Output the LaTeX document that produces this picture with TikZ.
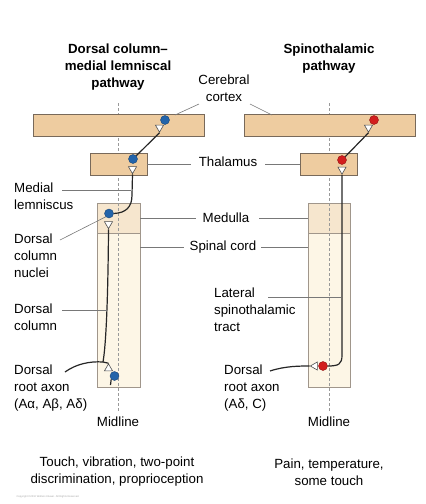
\documentclass[tikz,border=0pt]{standalone}
\usepackage{fontspec}
\setmainfont{Liberation Sans}
\usetikzlibrary{shapes.geometric}
\definecolor{boxdark}{RGB}{238,204,160}
\definecolor{medfill}{RGB}{246,230,206}
\definecolor{cordfill}{RGB}{253,246,230}
\definecolor{edge}{RGB}{120,105,90}
\definecolor{bluedot}{RGB}{35,100,170}
\definecolor{reddot}{RGB}{210,30,30}
\definecolor{leadc}{RGB}{120,120,120}
\tikzset{
  lbl/.style={inner sep=0pt, font=\fontsize{13.3}{17}\selectfont, align=left},
  ttl/.style={inner sep=0pt, font=\fontsize{13.3}{17}\selectfont\bfseries, align=center},
  brain/.style={draw=edge, line width=0.8pt, fill=boxdark},
  medbox/.style={draw=edge!70, line width=0.7pt, fill=medfill},
  cordbox/.style={draw=edge!70, line width=0.7pt, fill=cordfill},
  midl/.style={draw=gray!80, line width=0.8pt, dash pattern=on 3pt off 2pt},
  axon/.style={draw=black!85, line width=1.2pt},
  leader/.style={draw=leadc, line width=0.6pt},
  bdot/.style={circle, inner sep=0pt, minimum size=9pt, fill=bluedot, draw=bluedot!70!black, line width=0.4pt},
  rdot/.style={circle, inner sep=0pt, minimum size=9pt, fill=reddot, draw=reddot!70!black, line width=0.4pt},
  term/.style={isosceles triangle, isosceles triangle apex angle=60, inner sep=0pt, minimum height=7pt, fill=white, draw=black!70, line width=0.6pt}
}
\begin{document}
\begin{tikzpicture}[x=1pt,y=-1pt]
\useasboundingbox (0,0) rectangle (426,504);
% titles
\node[ttl] (t1) at (118,67) {Dorsal column–\\medial lemniscal\\pathway};
\node[ttl] (t2) at (329,58.5) {Spinothalamic\\pathway};
% midlines
\draw[midl] (118,103) -- (118,412);
\draw[midl] (329,103) -- (329,412);
% cortex
\node[brain, minimum width=171pt, minimum height=22pt, inner sep=0pt] (cxl) at (118.5,125.5) {};
\node[brain, minimum width=171pt, minimum height=22pt, inner sep=0pt] (cxr) at (329.5,125.5) {};
% thalamus
\node[brain, minimum width=57pt, minimum height=22pt, inner sep=0pt] (thl) at (118.5,164) {};
\node[brain, minimum width=57pt, minimum height=22pt, inner sep=0pt] (thr) at (328.5,164) {};
% medulla and cord
\node[medbox, minimum width=43pt, minimum height=30pt, inner sep=0pt] (mdl) at (118.5,218) {};
\node[cordbox, minimum width=43pt, minimum height=154pt, inner sep=0pt] (cdl) at (118.5,310) {};
\node[medbox, minimum width=42pt, minimum height=30pt, inner sep=0pt] (mdr) at (329,218) {};
\node[cordbox, minimum width=42pt, minimum height=154pt, inner sep=0pt] (cdr) at (329,310) {};
\draw[midl] (118,203) -- (118,387);
\draw[midl] (329,203) -- (329,387);
% center labels
\node[lbl, align=center] (cc) at (224,88.5) {Cerebral\\cortex};
\draw[leader] (199,104) -- (175,115);
\draw[leader] (250,104) -- (272,115);
\node[lbl] (thlab) at (228,162) {Thalamus};
\draw[leader] (thl.east) -- (191,164);
\draw[leader] (265,164) -- (thr.west);
\node[lbl] (medlab) at (226,218) {Medulla};
\draw[leader] (mdl.east) -- (196,218);
\draw[leader] (259,218) -- (mdr.west);
\node[lbl] (sclab) at (223,247) {Spinal cord};
\draw[leader] (140,247.5) -- (184,247.5);
\draw[leader] (261,247.5) -- (308,247.5);
% left labels
\node[lbl, anchor=west] (ml) at (14,196.5) {Medial\\lemniscus};
\node[lbl, anchor=west] (dcn) at (14,256) {Dorsal\\column\\nuclei};
\node[lbl, anchor=west] (dc) at (14,317) {Dorsal\\column};
\node[lbl, anchor=west] (dra) at (14,388) {Dorsal\\root axon\\(Aα, Aβ, Aδ)};
\node[lbl, anchor=west] (lst) at (214,310) {Lateral\\spinothalamic\\tract};
\node[lbl, anchor=west] (drb) at (224,388) {Dorsal\\root axon\\(Aδ, C)};
\node[lbl] (mid1) at (118,422) {Midline};
\node[lbl] (mid2) at (329,422) {Midline};
\node[lbl, align=center] (bot1) at (117,472) {Touch, vibration, two-point\\discrimination, proprioception};
\node[lbl, align=center] (bot2) at (329,472) {Pain, temperature,\\some touch};
\node[inner sep=0pt, font=\fontsize{2.6}{3}\selectfont, text=gray!70] (copy) at (48,497) {Copyright \copyright 2010 Wolters Kluwer. All Rights Reserved.};
% left pathway neurons
\node[bdot] (cdotl) at (165,120) {};
\node[term, shape border rotate=231] (ctril) at (159.5,127.5) {};
\node[bdot] (tdotl) at (133,159) {};
\node[term, shape border rotate=270] (ttril) at (132.5,169) {};
\node[bdot] (mdotl) at (109,213.5) {};
\node[term, shape border rotate=270] (mtril) at (108.5,224) {};
\node[term, shape border rotate=131] (dtril) at (108.5,368.5) {};
\node[bdot] (ddotl) at (114.5,376) {};
\coordinate (lm) at (132,195);
\coordinate (br) at (103,362);
\draw[axon] (tdotl) -- (ctril.apex);
\draw[axon] (mdotl.east) .. controls (126,213) and (132,207) .. (lm) -- (ttril.apex);
\draw[axon] (mtril.apex) .. controls (108,300) and (106,345) .. (br);
\draw[axon] (br) -- (dtril.apex);
\draw[axon] (ddotl.south west) -- (110.5,385);
\draw[axon] (65,372) .. controls (76,364) and (90,361) .. (br);
% leaders left
\draw[leader] (62,190) -- (130.5,190);
\draw[leader] (60,240) -- (mdotl.south west);
\draw[leader] (62,310) -- (106.5,310);
% right pathway neurons
\node[rdot] (cdotr) at (374,120) {};
\node[term, shape border rotate=231] (ctrir) at (368.5,127.5) {};
\node[rdot] (tdotr) at (342,160) {};
\node[term, shape border rotate=270] (ttrir) at (342,169.5) {};
\node[rdot] (sdotr) at (323,366) {};
\node[term, shape border rotate=180] (strir) at (315,366) {};
\draw[axon] (tdotr) -- (ctrir.apex);
\draw[axon] (ttrir.apex) -- (342,355) .. controls (342,364) and (339,366) .. (sdotr.east);
\draw[axon] (270,371) .. controls (285,366) and (300,366) .. (strir.apex);
\draw[leader] (268,297) -- (340.5,297);
\end{tikzpicture}
\end{document}
